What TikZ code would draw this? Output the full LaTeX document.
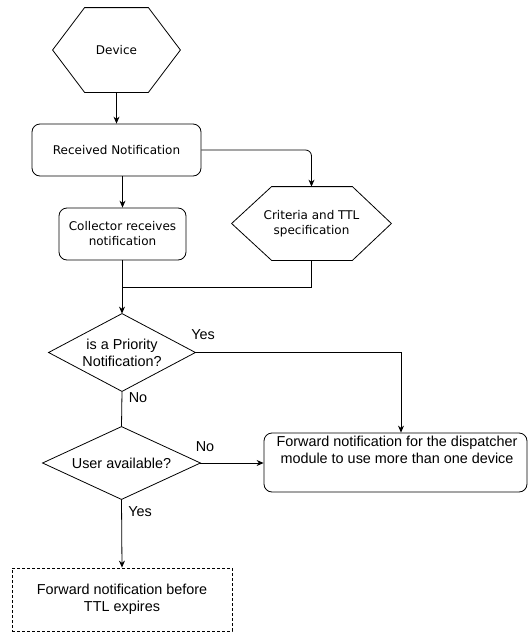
\documentclass[tikz,border=0pt]{standalone}
\usepackage{fontspec}
\setmainfont{Liberation Sans}
\newfontfamily\vfont{DejaVu Sans}
\usetikzlibrary{arrows.meta}
\begin{document}
\begin{tikzpicture}[x=1pt,y=-1pt,
  line width=0.8pt,
  arr/.style={-{Stealth[length=7pt,width=6pt]}},
  vtxt/.style={font=\vfont\fontsize{12}{15}\selectfont, align=center},
  htxt/.style={font=\fontsize{14.4}{17}\selectfont, align=center},
  frame/.style={draw=none, inner sep=0pt},
  rbox/.style={draw, rounded corners=8pt, inner sep=0pt},
  lbl/.style={htxt, inner sep=0pt}
]
\useasboundingbox (0,0) rectangle (528,632);

% Device hexagon
\node[frame, vtxt, minimum width=127, minimum height=84] (dev) at (116.5,50) {Device};
\draw ([xshift=32]dev.north west) -- ([xshift=-32]dev.north east) -- (dev.east)
  -- ([xshift=-32]dev.south east) -- ([xshift=32]dev.south west) -- (dev.west) -- cycle;

% Received
\node[rbox, vtxt, minimum width=169, minimum height=52] (rec) at (116.5,150) {Received Notification};

% Collector
\node[rbox, vtxt, minimum width=127, minimum height=52] (col) at (122.5,234) {Collector receives\\notification};

% Criteria hexagon
\node[frame, vtxt, minimum width=159, minimum height=73] (crit) at (311.5,223.5) {Criteria and TTL\\specification};
\draw ([xshift=40]crit.north west) -- ([xshift=-39]crit.north east) -- (crit.east)
  -- ([xshift=-39]crit.south east) -- ([xshift=40]crit.south west) -- (crit.west) -- cycle;

% Priority diamond
\node[frame, htxt, minimum width=146, minimum height=77] (pri) at (122,352.5) {is a Priority\\Notification?};
\draw (pri.north) -- (pri.east) -- (pri.south) -- (pri.west) -- cycle;

% User diamond
\node[frame, htxt, minimum width=157, minimum height=72] (usr) at (121.5,463) {User available?};
\draw (usr.north) -- (usr.east) -- (usr.south) -- (usr.west) -- cycle;

% Forward box
\node[rbox, minimum width=263, minimum height=59] (fwd) at (395.5,462.5) {};
\node[htxt, inner sep=0pt] (fwdt) at (397,450) {Forward notification for the dispatcher\\module to use more than one device};

% Final dashed box
\node[draw, dashed, dash pattern=on 3pt off 2pt, htxt, minimum width=220, minimum height=63, inner sep=0pt] (fin) at (122,599.5) {Forward notification before\\TTL expires};

\coordinate (m) at (122,287);

% Connectors
\draw[arr] (dev.south) -- (rec.north);
\draw[arr] (rec.south -| col.north) -- (col.north);
\draw[arr, rounded corners=6pt] (rec.east) -| (crit.north);
\draw (crit.south) |- (m);
\draw[arr] (col.south -| pri.north) -- (pri.north);
\draw[arr] (pri.east) -| ([xshift=5.5]fwd.north);
\draw (pri.south) -- (usr.north);
\draw[arr] (usr.east) -- (usr.east -| fwd.west);
\draw[arr] (usr.south) -- (fin.north);

% Labels
\node[lbl] (l1) at (203,335) {Yes};
\node[lbl] (l2) at (138,398) {No};
\node[lbl] (l3) at (205,447) {No};
\node[lbl] (l4) at (140,512) {Yes};
\end{tikzpicture}
\end{document}
